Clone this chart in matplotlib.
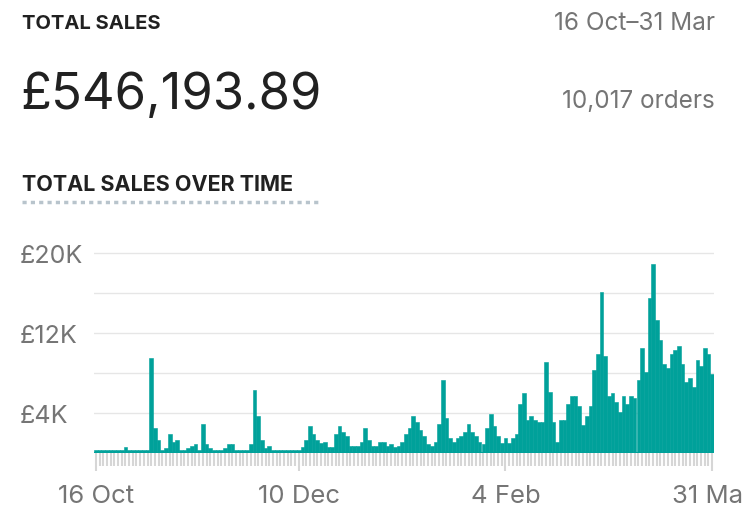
import numpy as np
import matplotlib.pyplot as plt
import matplotlib.transforms as mtransforms

plt.rcParams['font.family'] = ['Inter', 'DejaVu Sans']

# daily sales in £K, 16 Oct .. 31 Mar
sales_k = [
    0.3, 0.3, 0.3, 0.3, 0.3, 0.3, 0.3, 0.3, 0.6, 0.3, 0.3, 0.3, 0.3, 0.3, 0.3,
    9.5, 2.5, 1.3, 0.3, 0.5, 1.9, 1.1, 1.3, 0.3, 0.3, 0.5, 0.7, 0.9, 0.3, 2.9,
    0.9, 0.5, 0.3, 0.3, 0.3, 0.5, 0.9, 0.9, 0.3, 0.3, 0.3, 0.3, 0.9, 6.3, 3.7,
    1.3, 0.5, 0.7, 0.3, 0.3, 0.3, 0.3, 0.3, 0.3, 0.3,
    0.3, 0.6, 1.3, 2.7, 1.9, 1.3, 1.0, 1.1, 0.6, 0.6, 1.9, 2.7, 2.1, 1.7, 0.7,
    0.7, 0.7, 1.1, 2.5, 1.3, 0.7, 0.7, 1.1, 1.1, 0.7, 0.9, 0.6, 0.7, 1.1, 1.9,
    2.5, 3.7, 3.1, 2.3, 1.7, 0.9, 0.7, 1.1, 2.9, 7.3, 3.5, 1.5, 1.1, 1.5, 1.7,
    2.1, 2.9, 2.1, 1.7, 1.1, 0.9, 2.5, 3.9, 2.7, 1.7, 1.0, 1.5,
    1.0, 1.5, 1.9, 4.9, 6.0, 3.3, 3.7, 3.3, 3.1, 3.1, 9.1, 6.1, 3.1, 1.1, 3.3,
    3.3, 4.9, 5.7, 5.7, 4.7, 2.8, 3.7, 4.7, 8.3, 9.9, 16.1, 9.7, 5.7, 6.0, 5.1,
    4.1, 5.7, 4.9, 5.7, 5.5, 7.3, 10.5, 8.1, 15.5, 18.9, 13.3, 11.3, 8.9, 8.5,
    9.9, 10.3, 10.7, 8.9, 7.1, 7.5, 6.6, 9.3, 8.7, 10.5, 9.9, 7.9,
]
date_labels = ['16 Oct', '10 Dec', '4 Feb', '31 Mar']
date_idx = [0, 55, 111, 167]
y_ticks = [4, 8, 12, 16, 20]
y_label_vals = [4, 12, 20]
y_labels = ['£4K', '£12K', '£20K']

teal = '#00A19A'
grey = '#757575'
dark = '#212121'

fig = plt.figure(figsize=(7.44, 5.22), dpi=100)

fig.text(22/744, 1 - 24/522, 'TOTAL SALES', fontsize=14.5, fontweight='bold', color=dark, va='center')
fig.text(715/744, 1 - 24/522, '16 Oct–31 Mar', fontsize=17.5, color=grey, ha='right', va='center')
fig.text(20/744, 1 - 95/522, '£546,193.89', fontsize=36.5, color=dark, va='center')
fig.text(715/744, 1 - 102/522, '10,017 orders', fontsize=17.5, color=grey, ha='right', va='center')
fig.text(22/744, 1 - 185/522, 'TOTAL SALES OVER TIME', fontsize=15.5, fontweight='bold', color=dark, va='center')
fig.add_artist(plt.Line2D([22/744, 321/744], [1 - 202/522] * 2, color='#b8c4cc',
                          linestyle=(0, (1.2, 1.2)), linewidth=2.5))

ax = fig.add_axes([94/744, 1 - 453/522, 620/744, 203/522])
x = np.arange(len(sales_k))
ax.bar(x, sales_k, width=1.0, color=teal, edgecolor=teal, linewidth=0.4)
ax.set_xlim(-0.5, len(sales_k) - 0.5)
ax.set_ylim(0, 20.3)
for s in ax.spines.values():
    s.set_visible(False)
ax.set_yticks(y_ticks)
ax.set_yticklabels([])
ax.tick_params(axis='y', length=0)
trans = mtransforms.blended_transform_factory(fig.transFigure, ax.transData)
for v, lab in zip(y_label_vals, y_labels):
    ax.text(20/744, v - 0.35, lab, transform=trans, fontsize=18, color=grey,
            ha='left', va='center', clip_on=False)
ax.grid(axis='y', color='#e6e6e6', linewidth=1)
ax.set_axisbelow(True)
ax.axhline(0, color=teal, linewidth=1.5)

ax.set_xticks(x, minor=True)
ax.tick_params(axis='x', which='minor', length=9, width=1.5, color='#d6d6d6')
ax.set_xticks(date_idx)
ax.set_xticklabels(date_labels)
ax.tick_params(axis='x', which='major', length=13, width=1.5, color='#d6d6d6',
               labelsize=18.5, labelcolor=grey, pad=10)

fig.savefig('out.png', dpi=100)
